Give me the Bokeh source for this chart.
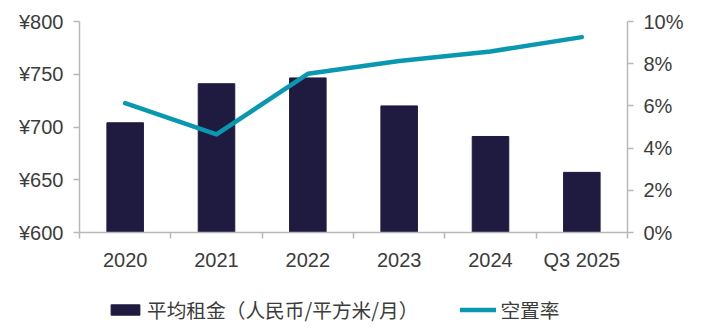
from bokeh.plotting import figure
from bokeh.layouts import column
from bokeh.models import (LinearAxis, Range1d, FixedTicker, NumeralTickFormatter,
                          PrintfTickFormatter, Legend, LegendItem, ColumnDataSource)
from bokeh.embed import file_html
from bokeh.resources import INLINE

categories = ["2020", "2021", "2022", "2023", "2024", "Q3 2025"]
avg_rent = [704, 741, 746.5, 720, 691, 657]
vacancy = [0.0613, 0.0465, 0.0752, 0.0813, 0.0858, 0.0926]
rent_ticks = [600, 650, 700, 750, 800]
pct_ticks = [0.0, 0.02, 0.04, 0.06, 0.08, 0.10]
series_names = ["平均租金（人民币/平方米/月）", "空置率"]

BAR = "#1f1a40"
LINE = "#0a97b0"
AXIS = "#b8b8b8"
TEXT = "#3c3c3c"
FONT = "Liberation Sans"

xs = list(range(len(categories)))
src = ColumnDataSource(dict(x=xs, rent=avg_rent, vac=vacancy))

p = figure(width=702, height=282, output_backend="svg", toolbar_location=None,
           x_range=Range1d(-0.5, len(categories) - 0.5),
           y_range=Range1d(rent_ticks[0], rent_ticks[-1]),
           min_border_left=79, min_border_right=75, min_border_top=21,
           min_border_bottom=50)
p.outline_line_color = None
p.grid.visible = False
p.extra_y_ranges = {"pct": Range1d(pct_ticks[0], pct_ticks[-1])}

p.vbar(x="x", top="rent", bottom=rent_ticks[0], width=0.4, source=src,
       fill_color=BAR, line_color=BAR)
p.line(x="x", y="vac", source=src, y_range_name="pct", line_color=LINE,
       line_width=4.5, line_cap="round", line_join="round")

# x axis
xa = p.xaxis[0]
xa.ticker = FixedTicker(ticks=xs, minor_ticks=[i - 0.5 for i in range(len(categories) + 1)])
xa.major_label_overrides = {i: c for i, c in enumerate(categories)}
xa.major_tick_line_color = None
xa.minor_tick_out = 6
xa.minor_tick_in = 0
xa.minor_tick_line_color = AXIS
xa.minor_tick_line_width = 1.5

# left axis
ya = p.yaxis[0]
ya.ticker = FixedTicker(ticks=rent_ticks, minor_ticks=[])
ya.formatter = PrintfTickFormatter(format="¥%d")
ya.major_tick_out = 6
ya.major_tick_in = 0

# right axis
ra = LinearAxis(y_range_name="pct", ticker=FixedTicker(ticks=pct_ticks, minor_ticks=[]),
                formatter=NumeralTickFormatter(format="0%"))
ra.major_tick_out = 6
ra.major_tick_in = 0
p.add_layout(ra, "right")

for ax in [xa, ya, ra]:
    ax.axis_line_color = AXIS
    ax.axis_line_width = 1.5
    ax.major_tick_line_width = 1.5
    ax.major_label_text_font = FONT
    ax.major_label_text_font_size = "20px"
    ax.major_label_text_color = TEXT
    ax.major_label_standoff = 10
for ax in [ya, ra]:
    ax.major_tick_line_color = AXIS
    ax.minor_tick_line_color = None

# legend strip below the chart (proxy renderers lie far outside the visible range)
lg = figure(width=702, height=54, output_backend="svg", toolbar_location=None,
            x_range=Range1d(0, 1), y_range=Range1d(0, 1),
            x_axis_type=None, y_axis_type=None, min_border=0)
lg.outline_line_color = None
lg.grid.visible = False
proxy = ColumnDataSource(dict(x=[-50, -60], y=[-50, -60]))
r_bar = lg.vbar(x="x", top="y", bottom=-70, width=0.1, source=proxy,
                fill_color=BAR, line_color=BAR)
r_line = lg.line(x="x", y="y", source=proxy, line_color=LINE, line_width=4.5, line_cap="round")

legend = Legend(items=[LegendItem(label=series_names[0], renderers=[r_bar]),
                       LegendItem(label=series_names[1], renderers=[r_line])],
                orientation="horizontal", location=(28, 12),
                glyph_width=36, glyph_height=13, label_standoff=4, spacing=42,
                padding=0, margin=0, border_line_color=None, background_fill_alpha=0,
                label_text_font="Noto Sans CJK SC", label_text_font_size="19.7px",
                label_text_color=TEXT)
lg.add_layout(legend, "center")

layout = column(p, lg, spacing=0)
open("out.html", "w").write(file_html(layout, INLINE))
